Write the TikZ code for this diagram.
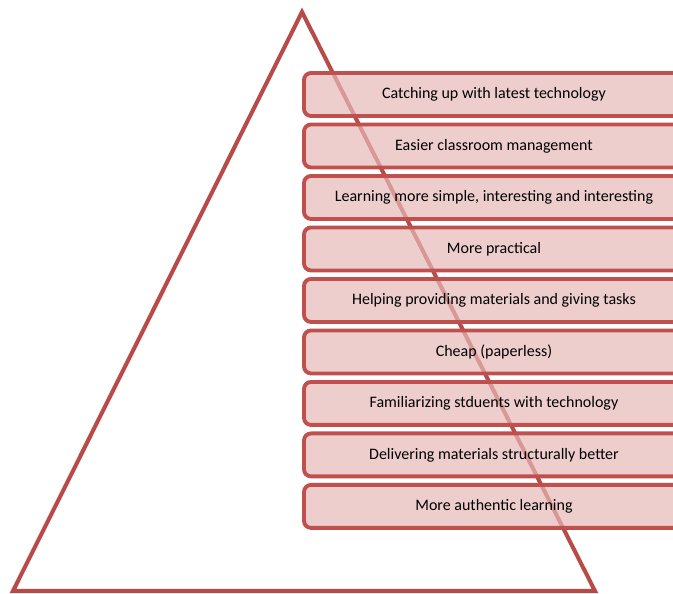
\documentclass[tikz,border=0pt]{standalone}
\usepackage{fontspec}
\setmainfont{Carlito}
\usetikzlibrary{positioning}
\definecolor{boxred}{HTML}{C0504D}
\definecolor{trired}{HTML}{B84B47}
\newcommand{\boxwidth}{7.6cm}
\newcommand{\boxheight}{0.86cm}
\tikzstyle{layer} = [% one benefit of the pyramid
  rectangle,
  rounded corners=4pt,
  minimum width=\boxwidth,
  minimum height=\boxheight,
  outer sep=0pt,
  text centered,
  font=\fontsize{9.1pt}{11pt}\selectfont,
  line width=2.2pt,
  draw=boxred,
  fill=boxred!40,
  fill opacity=0.7,
  text opacity=1,
  draw opacity=1
  ]
\tikzstyle{pyramid} = [% the big triangle behind
  line width=2.3pt,
  draw=trired,
  line join=miter
  ]

\begin{document}
\begin{tikzpicture}[x=0.02cm,y=-0.02cm,node distance=0.17cm]
\useasboundingbox (0,0) rectangle (673,594);
\clip (0,0) rectangle (673,594);

%%% Triangle
\coordinate (apex) at (302,12);
\coordinate (baseL) at (13,591);
\coordinate (baseR) at (595,591);
\draw[pyramid] (apex) -- (baseR) -- (baseL) -- cycle;

%%% Layers
\node[layer, anchor=north west] (l1) at (304,73) {Catching up with latest technology};
\node[layer] (l2) [below=of l1] {Easier classroom management};
\node[layer] (l3) [below=of l2] {Learning more simple, interesting and interesting};
\node[layer] (l4) [below=of l3] {More practical};
\node[layer] (l5) [below=of l4] {Helping providing materials and giving tasks};
\node[layer] (l6) [below=of l5] {Cheap (paperless)};
\node[layer] (l7) [below=of l6] {Familiarizing stduents with technology};
\node[layer] (l8) [below=of l7] {Delivering materials structurally better};
\node[layer] (l9) [below=of l8] {More authentic learning};

\end{tikzpicture}
\end{document}
